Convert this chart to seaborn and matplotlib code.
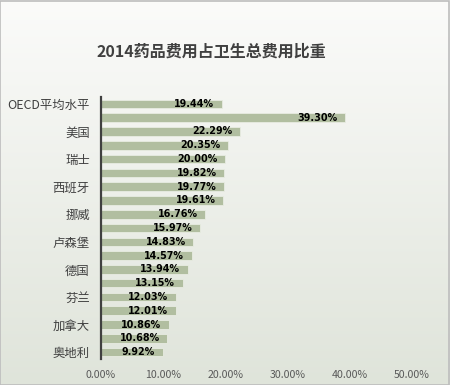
import numpy as np
import matplotlib
matplotlib.use("Agg")
import matplotlib.pyplot as plt
import seaborn as sns
import pandas as pd

categories = ["OECD平均水平", "中国", "美国", "日本", "瑞士", "法国", "西班牙", "意大利",
              "挪威", "比利时", "卢森堡", "荷兰", "德国", "英国", "芬兰", "瑞典",
              "加拿大", "丹麦", "奥地利"]
values = [19.44, 39.30, 22.29, 20.35, 20.00, 19.82, 19.77, 19.61, 16.76, 15.97,
          14.83, 14.57, 13.94, 13.15, 12.03, 12.01, 10.86, 10.68, 9.92]
xticks = [0, 10, 20, 30, 40, 50]
title = "2014药品费用占卫生总费用比重"

sns.set_theme(style="white")
plt.rcParams['font.family'] = ['Noto Sans CJK SC', 'DejaVu Sans']

df = pd.DataFrame({"country": categories, "share": values})

fig = plt.figure(figsize=(4.5, 3.85), dpi=100)

# gradient background
bg = fig.add_axes([0, 0, 1, 1], zorder=-10)
top = np.array([0.985, 0.985, 0.98])
bot = np.array([0.875, 0.894, 0.855])
t = np.linspace(0, 1, 256)[:, None]
grad = top[None, :] * (1 - t) + bot[None, :] * t
bg.imshow(grad[:, None, :], aspect='auto', extent=[0, 1, 0, 1])
bg.set_xlim(0, 1); bg.set_ylim(0, 1)
bg.axis('off')
bg.add_patch(plt.Rectangle((0.001, 0.001), 0.997, 0.996, fill=False,
                           edgecolor='#bdbdbd', linewidth=1.2, transform=bg.transAxes))

ax = fig.add_axes([0.2244, 0.0675, 0.9156 - 0.2244, 0.748 - 0.0675])
ax.set_facecolor('none')
sns.barplot(data=df, x="share", y="country", orient='h', color='#b1bea0',
            saturation=1, width=0.62, edgecolor='#e8ece2', linewidth=0.6, ax=ax)

ax.set_xlim(0, 50)
ax.set_xticks(xticks)
ax.set_xticklabels([f"{v:.2f}%" for v in xticks], fontsize=7.6, color='#595959')
ax.set_yticks(range(len(categories)))
ax.set_yticklabels([c if i % 2 == 0 else "" for i, c in enumerate(categories)],
                   fontsize=8.9, color='#404040')
ax.tick_params(axis='both', length=0)
ax.tick_params(axis='x', pad=8)
ax.tick_params(axis='y', pad=8)
ax.set_xlabel("")
ax.set_ylabel("")
for s in ['top', 'right', 'bottom']:
    ax.spines[s].set_visible(False)
ax.spines['left'].set_color('#404040')
ax.spines['left'].set_linewidth(1.6)

for i, v in enumerate(values):
    ax.annotate(f"{v:.2f}%", xy=(v, i), xytext=(-5.5, 0), textcoords='offset points',
                ha='right', va='center', fontsize=6.9, fontweight='bold',
                color='black', family='DejaVu Sans')

fig.text(0.469, 0.865, title, ha='center', va='center', fontsize=11.5,
         fontweight='bold', color='#404040')

fig.savefig("out.png", dpi=100)
